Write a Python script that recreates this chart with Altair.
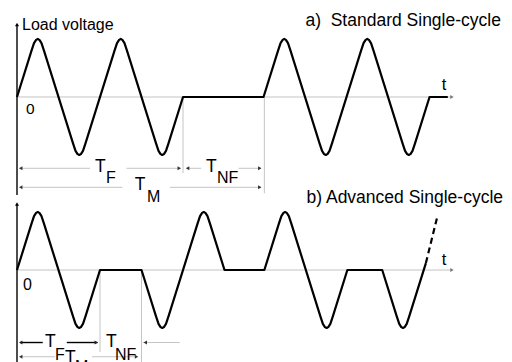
import altair as alt
import pandas as pd

FONT = "Liberation Sans"

# ---------------- panel a) Standard single-cycle ----------------
a_t = [0, .175, .205, .23, .25, .27, .295, .325, .675, .705, .73, .75, .77, .795, .825,
       1.175, 1.205, 1.23, 1.25, 1.27, 1.295, 1.325, 1.675, 1.705, 1.73, 1.75, 1.77, 1.795, 1.825, 2.0,
       2.97,
       3.145, 3.175, 3.20, 3.22, 3.24, 3.265, 3.295, 3.645, 3.675, 3.70, 3.72, 3.74, 3.765, 3.795,
       4.145, 4.175, 4.20, 4.22, 4.24, 4.265, 4.295, 4.645, 4.675, 4.70, 4.72, 4.74, 4.765, 4.795, 4.97, 5.19]
a_v = [0, .80, .93, .985, 1, .985, .93, .80, -.80, -.93, -.985, -1, -.985, -.93, -.80,
       .80, .93, .985, 1, .985, .93, .80, -.80, -.93, -.985, -1, -.985, -.93, -.80, 0,
       0,
       .80, .93, .985, 1, .985, .93, .80, -.80, -.93, -.985, -1, -.985, -.93, -.80,
       .80, .93, .985, 1, .985, .93, .80, -.80, -.93, -.985, -1, -.985, -.93, -.80, 0, 0]

# ---------------- panel b) Advanced single-cycle ----------------
b_t = [0, .175, .205, .23, .25, .27, .295, .325,
       .675, .705, .73, .75, .77, .795, .825, 1.0,
       1.5, 1.675, 1.705, 1.73, 1.75, 1.77, 1.795, 1.825,
       2.175, 2.205, 2.23, 2.25, 2.27, 2.295, 2.325, 2.5,
       2.98, 3.155, 3.185, 3.21, 3.23, 3.25, 3.275, 3.305,
       3.655, 3.685, 3.71, 3.73, 3.75, 3.775, 3.805, 3.98,
       4.40, 4.575, 4.605, 4.63, 4.65, 4.67, 4.695, 4.725, 4.926]
b_v = [0, .80, .93, .985, 1, .985, .93, .80,
       -.80, -.93, -.985, -1, -.985, -.93, -.80, 0,
       0, -.80, -.93, -.985, -1, -.985, -.93, -.80,
       .80, .93, .985, 1, .985, .93, .80, 0,
       0, .80, .93, .985, 1, .985, .93, .80,
       -.80, -.93, -.985, -1, -.985, -.93, -.80, 0,
       0, -.80, -.93, -.985, -1, -.985, -.93, -.80, .12]
b_dash_t = [4.926, 5.06]
b_dash_v = [0.12, 0.90]

# annotation lines (t1, v1, t2, v2)
a_gray = [(0, 0, 5.24, 0),
          (0.04, -1.229, 0.88, -1.229), (1.32, -1.229, 1.96, -1.229),
          (2.05, -1.229, 2.22, -1.229), (2.67, -1.229, 2.93, -1.229),
          (0.04, -1.557, 1.27, -1.557), (1.84, -1.557, 2.93, -1.557),
          (2.0, 0, 2.0, -1.31), (2.98, 0, 2.98, -1.66)]
a_dark = [(0, 1.25, 0, -1.69)]
a_arrows = [(0.045, -1.229, "triangle-left", "#333"), (1.955, -1.229, "triangle-right", "#333"),
            (2.055, -1.229, "triangle-left", "#333"), (2.925, -1.229, "triangle-right", "#333"),
            (0.045, -1.557, "triangle-left", "#333"), (2.925, -1.557, "triangle-right", "#333"),
            (5.24, 0, "triangle-right", "#777"), (0, 1.25, "triangle-up", "#000")]
# (text, t, v, font size, align)
a_texts = [("Load voltage", 0.06, 1.155, 16, "left"), ("0", 0.108, -0.293, 15.5, "left"),
           ("T", 0.94, -1.293, 17.5, "left"), ("F", 1.072, -1.483, 16, "left"),
           ("T", 2.277, -1.293, 17.5, "left"), ("NF", 2.41, -1.483, 16, "left"),
           ("T", 1.42, -1.603, 17.5, "left"), ("M", 1.566, -1.81, 16, "left"),
           ("a)\u00a0 Standard Single-cycle", 5.83, 1.224, 17.5, "right"),
           ("t", 5.145, 0.12, 16.5, "center")]

b_gray = [(0, 0, 5.24, 0),
          (1.52, -1.25, 1.96, -1.25),
          (0.04, -1.495, 0.458, -1.495), (0.904, -1.495, 1.44, -1.495),
          (1.0, 0, 1.0, -1.414), (1.5, 0, 1.5, -1.62)]
b_dark = [(0, 1.14, 0, -1.62),
          (0.04, -1.25, 0.31, -1.25), (0.60, -1.25, 0.97, -1.25)]
b_arrows = [(0.045, -1.25, "triangle-left", "#222"), (0.955, -1.25, "triangle-right", "#222"),
            (1.545, -1.25, "triangle-left", "#333"),
            (0.045, -1.495, "triangle-left", "#333"), (1.44, -1.495, "triangle-right", "#333"),
            (5.24, 0, "triangle-right", "#777"), (0, 1.14, "triangle-up", "#000")]
b_texts = [("0", 0.072, -0.345, 16, "left"),
           ("T", 0.337, -1.328, 17.5, "left"), ("F", 0.458, -1.552, 16, "left"),
           ("T", 1.072, -1.328, 17.5, "left"), ("NF", 1.18, -1.552, 16, "left"),
           ("T", 0.578, -1.603, 17.5, "left"), ("M", 0.70, -1.76, 16, "left"),
           ("b) Advanced Single-cycle", 5.855, 1.15, 17.5, "right"),
           ("t", 5.145, 0.086, 16.5, "center")]

W, H = 496, 177
xs = alt.Scale(domain=[-0.1084, 5.867], nice=False, zero=False)


def panel(t, v, dash_t, dash_v, gray, dark, arrows, texts, ydom):
    ys = alt.Scale(domain=ydom, nice=False, zero=False)
    X = lambda f: alt.X(f, type="quantitative", scale=xs, axis=None)
    Y = lambda f: alt.Y(f, type="quantitative", scale=ys, axis=None)
    layers = []

    def rule_layer(rows, color, width):
        df = pd.DataFrame(rows, columns=["x", "y", "x2", "y2"])
        return alt.Chart(df).mark_rule(color=color, strokeWidth=width).encode(
            x=X("x"), y=Y("y"), x2="x2:Q", y2="y2:Q")

    layers.append(rule_layer(gray, "#c4c4c4", 1))
    layers.append(rule_layer(dark, "#000", 1.4))

    wave = pd.DataFrame({"t": t, "v": v, "i": range(len(t))})
    layers.append(alt.Chart(wave).mark_line(color="black", strokeWidth=2.2, strokeJoin="round").encode(
        x=X("t"), y=Y("v"), order="i:Q"))
    if dash_t:
        dd = pd.DataFrame({"t": dash_t, "v": dash_v, "i": range(len(dash_t))})
        layers.append(alt.Chart(dd).mark_line(color="black", strokeWidth=2.2, strokeDash=[6, 4]).encode(
            x=X("t"), y=Y("v"), order="i:Q"))

    adf = pd.DataFrame(arrows, columns=["x", "y", "shape", "color"])
    layers.append(alt.Chart(adf).mark_point(filled=True, size=16, opacity=1).encode(
        x=X("x"), y=Y("y"),
        shape=alt.Shape("shape:N", scale=None),
        color=alt.Color("color:N", scale=None)))

    for (s, x, y, fs, align) in texts:
        df = pd.DataFrame({"s": [s], "x": [x], "y": [y]})
        layers.append(alt.Chart(df).mark_text(align=align, baseline="alphabetic", font=FONT,
                                              fontSize=fs, color="black").encode(
            x=X("x"), y=Y("y"), text="s:N"))
    return alt.layer(*layers).properties(width=W, height=H)


top = panel(a_t, a_v, None, None, a_gray, a_dark, a_arrows, a_texts, [-1.517, 1.534])
bottom = panel(b_t, b_v, b_dash_t, b_dash_v, b_gray, b_dark, b_arrows, b_texts, [-1.586, 1.466])

chart = alt.vconcat(top, bottom, spacing=0, bounds="flush").properties(
    padding=0, background="white"
).configure_view(strokeWidth=0)

chart.save("out.html", embed_options={"renderer": "svg", "actions": False})
